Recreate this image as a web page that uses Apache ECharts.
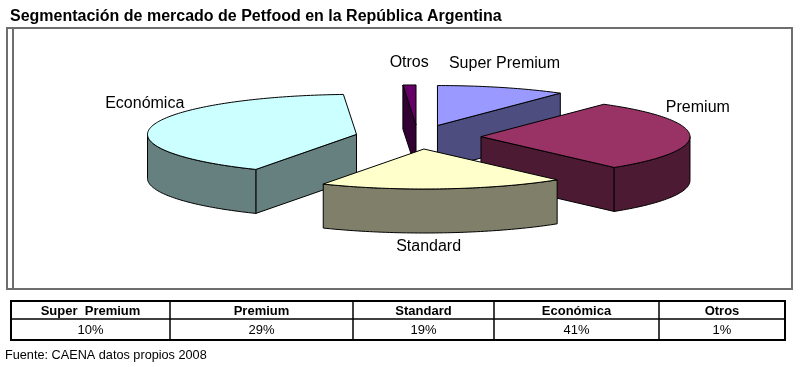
<!DOCTYPE html>
<html><head><meta charset="utf-8">
<script src="https://cdn.jsdelivr.net/npm/echarts@6/dist/echarts.min.js"></script>
<style>html,body{margin:0;padding:0;background:#fff}#c{width:800px;height:367px}</style>
</head><body><div id="c"></div>
<script>
// ---- data ----
const categories = ['Super Premium', 'Premium', 'Standard', 'Económica', 'Otros'];
const shares = [10, 29, 19, 41, 1];
const tableHeaders = ['Super  Premium', 'Premium', 'Standard', 'Económica', 'Otros'];
const tableValues = shares.map(v => v + '%');
const titleText = 'Segmentación de mercado de Petfood en la República Argentina';
const sourceText = 'Fuente: CAENA datos propios 2008';

// ---- style ----
const topColors = ['#9999FF', '#993366', '#FFFFCC', '#CCFFFF', '#660066'];
const sideColors = ['#4D4D80', '#4D1A33', '#80806A', '#668080', '#330033'];
const PIE = { cx: 418, cy: 137, rx: 209, ry: 40, h: 44, explode: 63 };
const TABLE = { cols: [11, 170, 353, 494, 659, 785], y0: 301, y1: 319, y2: 340 };
const FONT = 'Liberation Sans, Arial, sans-serif';

const total = shares.reduce((a, b) => a + b, 0);
const starts = [];
{ let acc = 0; shares.forEach(v => { starts.push(acc); acc += v; }); }
const mids = shares.map((v, i) => (starts[i] + v / 2) / total * 2 * Math.PI);
// painter order: back slices first
const order = mids.map((m, i) => i).sort((a, b) => Math.cos(mids[b]) - Math.cos(mids[a]));
const rank = []; order.forEach((idx, r) => rank[idx] = r);

function renderItem(params, api) {
  const i = params.dataIndex;
  const v = api.value(1);
  const a1 = starts[i] / total * 2 * Math.PI;
  const a2 = a1 + v / total * 2 * Math.PI;
  const mid = (a1 + a2) / 2;
  const t = PIE.ry / PIE.rx;
  const ax = PIE.cx + PIE.explode * Math.sin(mid);
  const ay = PIE.cy - PIE.explode * Math.cos(mid) * t;
  const h = PIE.h;
  const P = (a, dz) => [ax + PIE.rx * Math.sin(a), ay - PIE.ry * Math.cos(a) + dz];
  const arc = (b1, b2, dz) => {
    const n = Math.max(2, Math.ceil((b2 - b1) / 0.02));
    const pts = [];
    for (let k = 0; k <= n; k++) pts.push(P(b1 + (b2 - b1) * k / n, dz));
    return pts;
  };
  const z = rank[i] * 10;
  const st = (fill) => ({ fill: fill, stroke: '#000', lineWidth: 1, lineJoin: 'round' });
  const children = [];
  if (Math.sin(a1) < -1e-6) {
    children.push({ type: 'polygon', z2: z + 1, shape: { points: [[ax, ay], P(a1, 0), P(a1, h), [ax, ay + h]] }, style: st(sideColors[i]) });
  }
  if (Math.sin(a2) > 1e-6) {
    children.push({ type: 'polygon', z2: z + 1, shape: { points: [[ax, ay], P(a2, 0), P(a2, h), [ax, ay + h]] }, style: st(sideColors[i]) });
  }
  const b1 = Math.max(a1, Math.PI / 2), b2 = Math.min(a2, 3 * Math.PI / 2);
  if (b2 > b1) {
    const pts = arc(b1, b2, 0).concat(arc(b1, b2, h).reverse());
    children.push({ type: 'polygon', z2: z + 2, shape: { points: pts }, style: st(sideColors[i]) });
  }
  children.push({ type: 'polygon', z2: z + 3, shape: { points: [[ax, ay]].concat(arc(a1, a2, 0)) }, style: st(topColors[i]) });
  // label
  const anc = P(mid, 0);
  let lx, ly;
  if (Math.cos(mid) < -0.5) { lx = anc[0] - 15; ly = anc[1] + h + 14; }
  else { lx = anc[0] + 8 * Math.sin(mid); ly = anc[1] - 22 - 6 * Math.max(0, Math.sin(mid)); }
  children.push({ type: 'text', z2: 100, style: { text: categories[i], x: lx, y: ly, align: 'center', verticalAlign: 'middle', font: '16px ' + FONT, fill: '#000' } });
  return { type: 'group', children: children };
}

const graphics = [];
// chart frame
graphics.push({ type: 'rect', shape: { x: 7, y: 28, width: 785, height: 261 }, style: { fill: 'none', stroke: '#6e6e6e', lineWidth: 2 } });
graphics.push({ type: 'line', shape: { x1: 13, y1: 28, x2: 13, y2: 289 }, style: { stroke: '#6e6e6e', lineWidth: 2 } });
// table
const tc = TABLE.cols;
graphics.push({ type: 'rect', shape: { x: tc[0], y: TABLE.y0, width: tc[tc.length - 1] - tc[0], height: TABLE.y2 - TABLE.y0 }, style: { fill: '#fff', stroke: '#000', lineWidth: 2 } });
graphics.push({ type: 'line', shape: { x1: tc[0], y1: TABLE.y1, x2: tc[tc.length - 1], y2: TABLE.y1 }, style: { stroke: '#000', lineWidth: 1.5 } });
for (let k = 1; k < tc.length - 1; k++) {
  graphics.push({ type: 'line', shape: { x1: tc[k], y1: TABLE.y0, x2: tc[k], y2: TABLE.y2 }, style: { stroke: '#000', lineWidth: 1.5 } });
}
tableHeaders.forEach((hd, k) => {
  const cx = (tc[k] + tc[k + 1]) / 2;
  graphics.push({ type: 'text', style: { text: hd, x: cx, y: (TABLE.y0 + TABLE.y1) / 2 + 1, align: 'center', verticalAlign: 'middle', font: 'bold 13px ' + FONT, fill: '#000' } });
  graphics.push({ type: 'text', style: { text: tableValues[k], x: cx, y: (TABLE.y1 + TABLE.y2) / 2 + 1, align: 'center', verticalAlign: 'middle', font: '13px ' + FONT, fill: '#000' } });
});
graphics.push({ type: 'text', style: { text: sourceText, x: 5, y: 355, align: 'left', verticalAlign: 'middle', font: '12.7px ' + FONT, fill: '#000' } });

const chart = echarts.init(document.getElementById('c'), null, { renderer: 'canvas' });
chart.setOption({
  backgroundColor: '#fff',
  animation: false,
  title: { text: titleText, left: 5, top: 3, textStyle: { fontFamily: FONT, fontWeight: 'bold', fontSize: 16, color: '#000', lineHeight: 18 } },
  graphic: graphics,
  series: [{
    type: 'custom',
    coordinateSystem: 'none',
    renderItem: renderItem,
    data: shares.map((v, i) => [i, v])
  }]
});
</script></body></html>
